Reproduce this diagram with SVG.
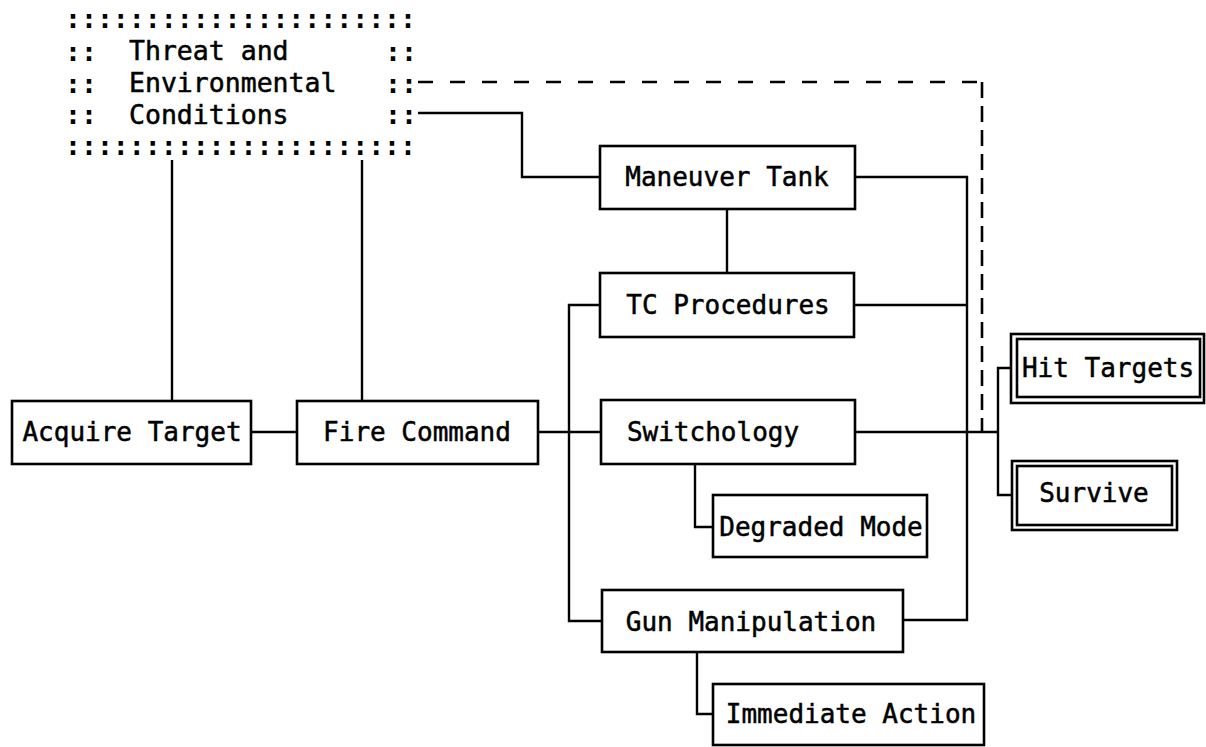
<svg xmlns="http://www.w3.org/2000/svg" width="1206" height="747" viewBox="0 0 1206 747">
<style>
  .box { fill: #fff; stroke: #000; stroke-width: 2.6; }
  .lbl { font-family: "DejaVu Sans Mono", "Liberation Mono", monospace; font-size: 26px; fill: #000; stroke: #000; stroke-width: 0.5; text-anchor: middle; }
  .dot { font-family: "DejaVu Sans Mono", "Liberation Mono", monospace; font-size: 26.5px; font-weight: bold; fill: #000; }
  .txt { font-family: "DejaVu Sans Mono", "Liberation Mono", monospace; font-size: 26.5px; fill: #000; stroke: #000; stroke-width: 0.5; }
  .ln { fill: none; stroke: #000; stroke-width: 2.4; }
  .dash { fill: none; stroke: #000; stroke-width: 2.6; }
</style>
<rect width="1206" height="747" fill="#fff"/>
<g id="connectors">
  <path class="ln" d="M251,432 H297"/>
  <path class="ln" d="M172,160 V401"/>
  <path class="ln" d="M362,160 V401"/>
  <path class="ln" d="M418,113 H522 V177 H600"/>
  <path class="dash" stroke-dasharray="15 17" d="M418,82 H982"/>
  <path class="dash" stroke-dasharray="16 8" d="M982,82 V432"/>
  <path class="ln" d="M855,177 H967 V620 H903"/>
  <path class="ln" d="M854,305 H967"/>
  <path class="ln" d="M727,209 V273"/>
  <path class="ln" d="M600,305 H569 V621 H602"/>
  <path class="ln" d="M538,432 H601"/>
  <path class="ln" d="M855,432 H998"/>
  <path class="ln" d="M1011,368 H998 V495 H1012"/>
  <path class="ln" d="M695,464 V527 H713"/>
  <path class="ln" d="M697,652 V714 H713"/>
</g>
<g id="threat">
  <text class="dot" x="65" y="28">::::::::::::::::::::::</text>
  <text class="dot" x="65" y="61">::</text>
  <text class="dot" x="385" y="61">::</text>
  <text class="dot" x="65" y="93">::</text>
  <text class="dot" x="385" y="93">::</text>
  <text class="dot" x="65" y="124">::</text>
  <text class="dot" x="385" y="124">::</text>
  <text class="dot" x="65" y="155">::::::::::::::::::::::</text>
  <text class="txt" x="129" y="60">Threat and</text>
  <text class="txt" x="129" y="92">Environmental</text>
  <text class="txt" x="129" y="124">Conditions</text>
</g>
<g id="acquire-target">
  <rect class="box" x="12" y="401" width="239" height="63"/>
  <text class="lbl" x="132" y="441">Acquire Target</text>
</g>
<g id="fire-command">
  <rect class="box" x="297" y="401" width="241" height="63"/>
  <text class="lbl" x="417" y="441">Fire Command</text>
</g>
<g id="maneuver-tank">
  <rect class="box" x="600" y="146" width="255" height="63"/>
  <text class="lbl" x="727" y="186">Maneuver Tank</text>
</g>
<g id="tc-procedures">
  <rect class="box" x="600" y="273" width="254" height="64"/>
  <text class="lbl" x="728" y="314">TC Procedures</text>
</g>
<g id="switchology">
  <rect class="box" x="601" y="400" width="254" height="64"/>
  <text class="lbl" x="713" y="441">Switchology</text>
</g>
<g id="degraded-mode">
  <rect class="box" x="713" y="495" width="214" height="62"/>
  <text class="lbl" x="821" y="536">Degraded Mode</text>
</g>
<g id="gun-manipulation">
  <rect class="box" x="602" y="590" width="301" height="62"/>
  <text class="lbl" x="751" y="631">Gun Manipulation</text>
</g>
<g id="immediate-action">
  <rect class="box" x="713" y="684" width="271" height="61"/>
  <text class="lbl" x="851" y="723">Immediate Action</text>
</g>
<g id="hit-targets">
  <rect class="box" x="1011" y="334" width="193" height="69"/>
  <rect class="box" x="1017" y="339" width="183" height="58"/>
  <text class="lbl" x="1108" y="377">Hit Targets</text>
</g>
<g id="survive">
  <rect class="box" x="1012" y="461" width="165" height="69"/>
  <rect class="box" x="1017" y="466" width="155" height="59"/>
  <text class="lbl" x="1094" y="502">Survive</text>
</g>
</svg>
